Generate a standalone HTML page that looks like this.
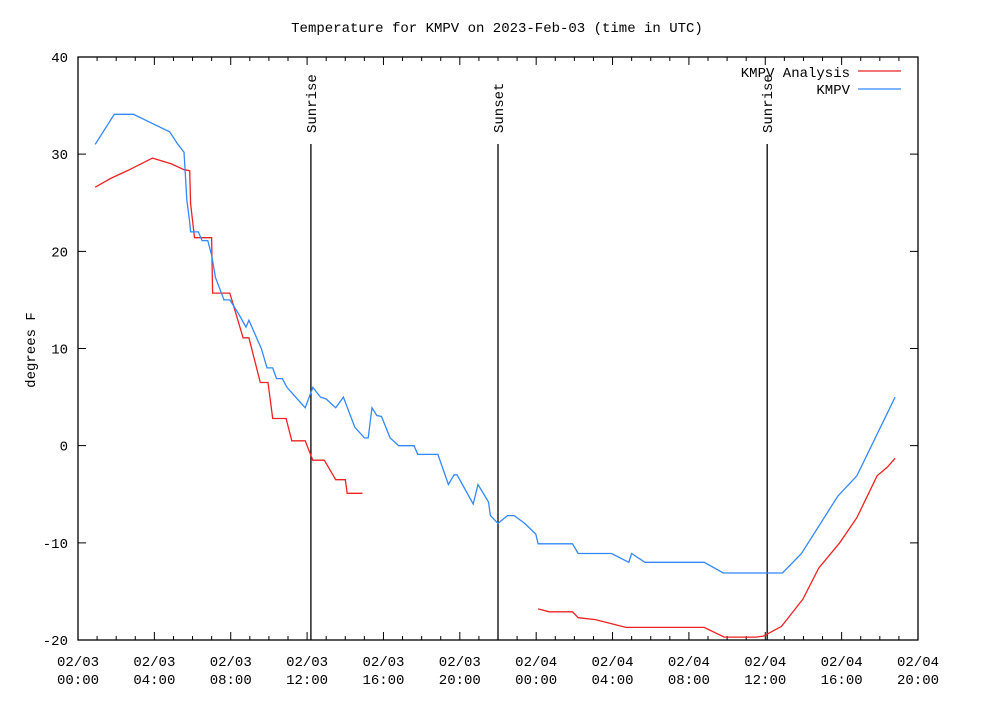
<!DOCTYPE html>
<html><head><meta charset="utf-8"><style>
body{margin:0;background:#fff;}
svg text{font-family:"Liberation Mono","DejaVu Sans Mono",monospace;font-size:14px;fill:#000;}
</style></head><body>
<svg id="c" width="1000" height="720" xmlns="http://www.w3.org/2000/svg">
<text x="497" y="32" text-anchor="middle">Temperature for KMPV on 2023-Feb-03 (time in UTC)</text>
<text transform="translate(35,350) rotate(-90)" text-anchor="middle">degrees F</text>
</svg>
<script>
const yTicks=[-20,-10,0,10,20,30,40];
const xTickHours=[0,4,8,12,16,20,24,28,32,36,40,44];
const xTickDates=['02/03','02/03','02/03','02/03','02/03','02/03','02/04','02/04','02/04','02/04','02/04','02/04'];
const xTickTimes=['00:00','04:00','08:00','12:00','16:00','20:00','00:00','04:00','08:00','12:00','16:00','20:00'];
const sunHours=[12.2,22.0,36.1];
const sunLabels=['Sunrise','Sunset','Sunrise'];
const obsHours=[0.9,1.9,2.9,4.8,5.2,5.55,5.6,5.7,5.85,5.9,6.3,6.5,6.8,7,7.2,7.65,7.95,8.4,8.8,8.95,9.6,9.9,10.2,10.4,10.7,10.95,11.4,11.9,12.3,12.7,13,13.5,13.9,14.5,15,15.2,15.4,15.65,15.9,16.35,16.8,17.6,17.8,18.85,19.4,19.7,19.85,20.7,20.95,21.5,21.6,22.0,22.5,22.85,23.4,23.98,24.1,25.9,26.2,27.95,28.85,29.0,29.7,32.8,33.8,36.9,37.9,39.8,40.8,42.8];
const obsTemps=[31,34.1,34.1,32.3,31.1,30.2,28.7,25.3,23,22,22,21.1,21.1,19.6,17.3,15,15,13.6,12.2,12.9,10,8,8,6.9,6.9,6,5,3.9,6,5,4.8,3.9,5,1.9,0.8,0.8,3.9,3.1,3,0.8,0,0,-0.9,-0.9,-4,-3,-3,-6,-4,-5.8,-7.2,-8,-7.2,-7.2,-8,-9.1,-10.1,-10.1,-11.1,-11.1,-12,-11.1,-12,-12,-13.1,-13.1,-11.1,-5.2,-3.1,5];
const anaHours1=[0.9,1.7,2.7,3.9,4.9,5.55,5.85,5.9,6.1,7,7.05,7.95,8.65,8.95,9.55,9.95,10.2,10.9,11.2,11.9,12.3,12.9,13.5,14,14.1,14.9];
const anaTemps1=[26.6,27.5,28.4,29.6,29,28.4,28.3,24.9,21.4,21.4,15.7,15.7,11.1,11.1,6.5,6.5,2.8,2.8,0.5,0.5,-1.5,-1.5,-3.5,-3.5,-4.9,-4.9];
const anaHours2=[24.1,24.67,25.9,26.2,27.1,28.7,32.8,33.85,35.5,35.9,36.85,37.97,38.8,39.9,40.8,41.86,42.4,42.8];
const anaTemps2=[-16.8,-17.1,-17.1,-17.7,-17.9,-18.7,-18.7,-19.7,-19.7,-19.6,-18.6,-15.8,-12.6,-10,-7.4,-3.1,-2.2,-1.3];

const L=78,R=918,T=57,B=640;
const X=h=>L+(R-L)*h/44;
const Y=t=>B-(B-T)*(t+20)/60;
const svg=document.getElementById('c');
const NS='http://www.w3.org/2000/svg';
function mk(tag,attrs){const e=document.createElementNS(NS,tag);for(const k in attrs)e.setAttribute(k,attrs[k]);svg.appendChild(e);return e;}

const frame=mk('rect',{x:L,y:T,width:R-L,height:B-T,fill:'none',stroke:'#000','stroke-width':1.3});



yTicks.forEach(v=>{
  const y=Y(v);
  const t1=mk('path',{d:`M${L},${y}h8M${R},${y}h-8`,stroke:'#000','stroke-width':1});
  
  
  const lb=mk('text',{x:L-10,y:y+5,'text-anchor':'end'});
  lb.textContent=v;
  
  
});
for(let h=0;h<=44;h++){
  const x=X(h);const len=(h%4===0)?8:4;
  const t=mk('path',{d:`M${x},${B}v${-len}M${x},${T}v${len}`,stroke:'#000','stroke-width':1});
  
  
}
xTickHours.forEach((h,i)=>{
  const a=mk('text',{x:X(h),y:666,'text-anchor':'middle'});a.textContent=xTickDates[i];
  
  
  const b=mk('text',{x:X(h),y:684,'text-anchor':'middle'});b.textContent=xTickTimes[i];
  
  
});
sunHours.forEach((h,i)=>{
  const x=X(h);
  const ln=mk('line',{x1:x,y1:144,x2:x,y2:B,stroke:'#000','stroke-width':1.3});
  
  
  const tx=mk('text',{transform:`translate(${x+5},133) rotate(-90)`,'text-anchor':'start'});
  tx.textContent=sunLabels[i];
  
  
});
function line(hs,ts,col,name){
  const d=hs.map((h,i)=>(i?'L':'M')+X(h).toFixed(1)+','+Y(ts[i]).toFixed(1)).join('');
  const p=mk('path',{d:d,fill:'none',stroke:col,'stroke-width':1.3});
  
  
}
line(anaHours1,anaTemps1,'#ee2222','analysis-line-1');
line(anaHours2,anaTemps2,'#ee2222','analysis-line-2');
line(obsHours,obsTemps,'#3388ff','kmpv-line');

const l1=mk('text',{x:850,y:77,'text-anchor':'end'});l1.textContent='KMPV Analysis';


const s1=mk('line',{x1:858,y1:71,x2:901,y2:71,stroke:'#ee2222','stroke-width':1.3});


const l2=mk('text',{x:850,y:94,'text-anchor':'end'});l2.textContent='KMPV';


const s2=mk('line',{x1:858,y1:89,x2:901,y2:89,stroke:'#3388ff','stroke-width':1.3});


</script>
</body></html>
